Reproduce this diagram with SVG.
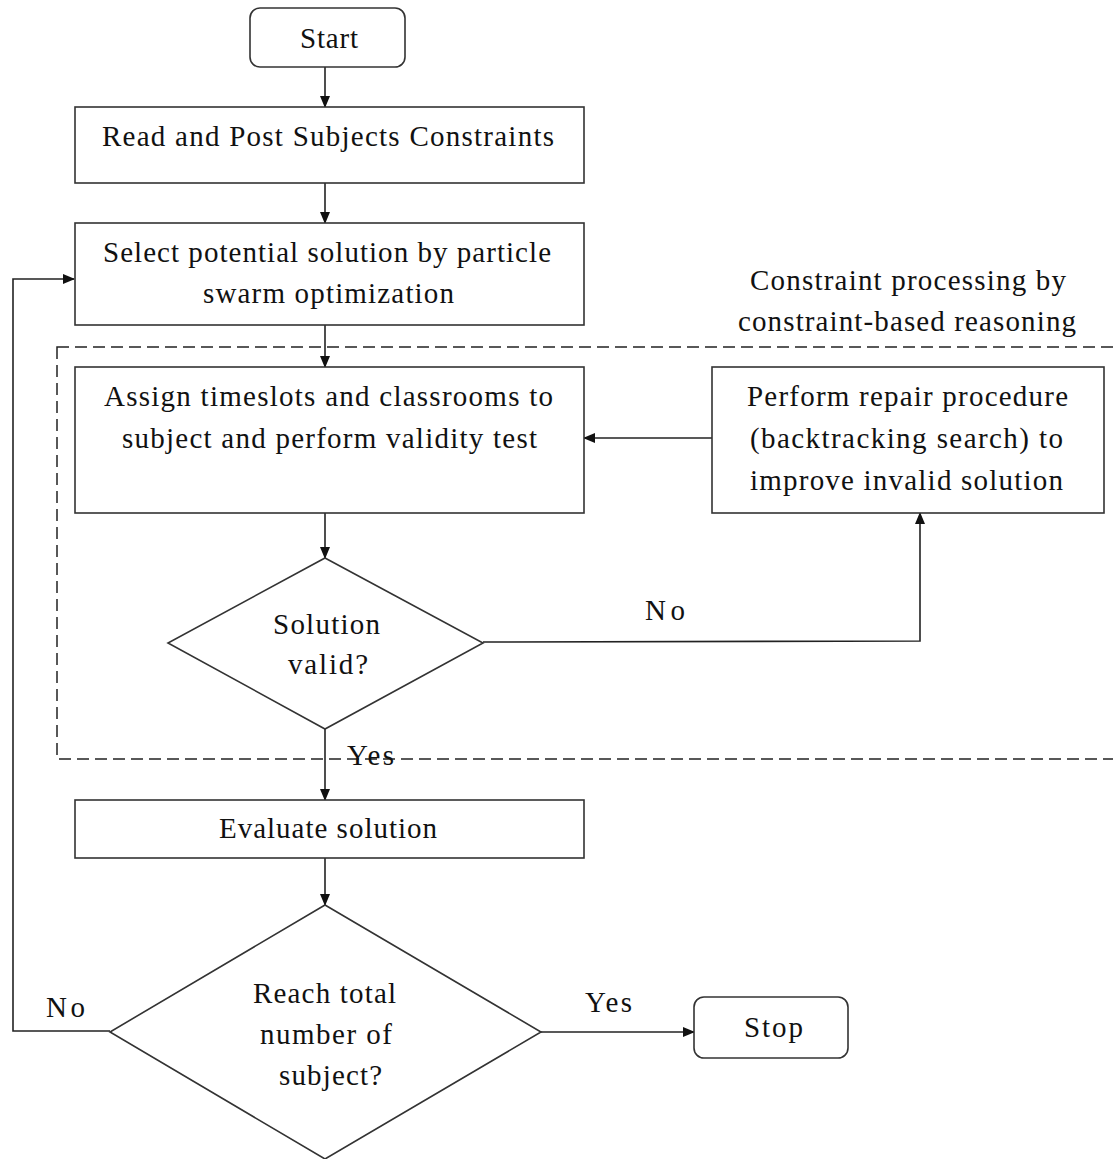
<svg xmlns="http://www.w3.org/2000/svg" width="1113" height="1159" viewBox="0 0 1113 1159">
<defs>
<marker id="ah" markerWidth="12" markerHeight="12" refX="11" refY="6" orient="auto" markerUnits="userSpaceOnUse">
<path d="M0,1 L12,6 L0,11 Z" fill="#111"/>
</marker>
<style>
.n{fill:#fff;stroke:#333;stroke-width:1.6}
.t{font-family:"Liberation Serif","Times New Roman",serif;font-size:29px;fill:#111;text-anchor:middle}
.c{fill:none;stroke:#222;stroke-width:1.6}
.d{fill:none;stroke:#222;stroke-width:1.5;stroke-dasharray:12 6}
</style>
</defs>
<rect width="1113" height="1159" fill="#fff"/>
<g id="group-dashed">
<rect class="d" x="57" y="347" width="1070" height="412"/>
<text class="t" x="908" y="290" textLength="316" lengthAdjust="spacing">Constraint processing by</text>
<text class="t" x="907" y="331" textLength="338" lengthAdjust="spacing">constraint-based reasoning</text>
</g>
<g id="connectors">
<line class="c" x1="325" y1="67" x2="325" y2="107" marker-end="url(#ah)"/>
<line class="c" x1="325" y1="183" x2="325" y2="223" marker-end="url(#ah)"/>
<line class="c" x1="325" y1="325" x2="325" y2="367" marker-end="url(#ah)"/>
<line class="c" x1="712" y1="438" x2="584" y2="438" marker-end="url(#ah)"/>
<line class="c" x1="325" y1="513" x2="325" y2="558" marker-end="url(#ah)"/>
<polyline class="c" points="483,642 920,641 920,513" marker-end="url(#ah)"/>
<line class="c" x1="325" y1="729" x2="325" y2="800" marker-end="url(#ah)"/>
<line class="c" x1="325" y1="858" x2="325" y2="905" marker-end="url(#ah)"/>
<line class="c" x1="541" y1="1032" x2="694" y2="1032" marker-end="url(#ah)"/>
<polyline class="c" points="110,1031 13,1031 13,279 74,279" marker-end="url(#ah)"/>
<text class="t" x="665" y="620" textLength="40" lengthAdjust="spacing">No</text>
<text class="t" x="370.5" y="765" textLength="47" lengthAdjust="spacing">Yes</text>
<text class="t" x="608.5" y="1012" textLength="47" lengthAdjust="spacing">Yes</text>
<text class="t" x="65.5" y="1017" textLength="39" lengthAdjust="spacing">No</text>
</g>
<g id="node-start">
<rect class="n" x="250" y="8" width="155" height="59" rx="10"/>
<text class="t" x="329" y="48" textLength="58" lengthAdjust="spacing">Start</text>
</g>
<g id="node-read">
<rect class="n" x="75" y="107" width="509" height="76"/>
<text class="t" x="328" y="146" textLength="452" lengthAdjust="spacing">Read and Post Subjects Constraints</text>
</g>
<g id="node-select">
<rect class="n" x="75" y="223" width="509" height="102"/>
<text class="t" x="327" y="262" textLength="448" lengthAdjust="spacing">Select potential solution by particle</text>
<text class="t" x="328.5" y="303" textLength="251" lengthAdjust="spacing">swarm optimization</text>
</g>
<g id="node-assign">
<rect class="n" x="75" y="367" width="509" height="146"/>
<text class="t" x="328.5" y="406" textLength="449" lengthAdjust="spacing">Assign timeslots and classrooms to</text>
<text class="t" x="329.5" y="448" textLength="415" lengthAdjust="spacing">subject and perform validity test</text>
</g>
<g id="node-repair">
<rect class="n" x="712" y="367" width="392" height="146"/>
<text class="t" x="907.5" y="406" textLength="321" lengthAdjust="spacing">Perform repair procedure</text>
<text class="t" x="906.5" y="448" textLength="313" lengthAdjust="spacing">(backtracking search) to</text>
<text class="t" x="906.5" y="490" textLength="313" lengthAdjust="spacing">improve invalid solution</text>
</g>
<g id="node-valid">
<polygon class="n" points="325,558 483,643 325,729 168,643"/>
<text class="t" x="326.5" y="634" textLength="107" lengthAdjust="spacing">Solution</text>
<text class="t" x="328" y="674" textLength="80" lengthAdjust="spacing">valid?</text>
</g>
<g id="node-evaluate">
<rect class="n" x="75" y="800" width="509" height="58"/>
<text class="t" x="328" y="838" textLength="218" lengthAdjust="spacing">Evaluate solution</text>
</g>
<g id="node-reach">
<polygon class="n" points="325,905 541,1032 325,1159 110,1032"/>
<text class="t" x="324.5" y="1003" textLength="143" lengthAdjust="spacing">Reach total</text>
<text class="t" x="326" y="1044" textLength="132" lengthAdjust="spacing">number of</text>
<text class="t" x="330.5" y="1085" textLength="103" lengthAdjust="spacing">subject?</text>
</g>
<g id="node-stop">
<rect class="n" x="694" y="997" width="154" height="61" rx="10"/>
<text class="t" x="773.5" y="1037" textLength="59" lengthAdjust="spacing">Stop</text>
</g>
</svg>
